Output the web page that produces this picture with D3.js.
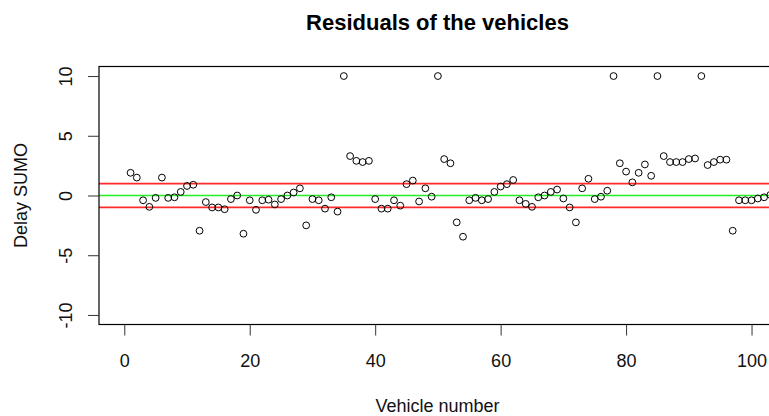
<!DOCTYPE html>
<html>
<head>
<meta charset="utf-8">
<script src="https://cdn.jsdelivr.net/npm/d3@7"></script>
<style>
  html, body { margin: 0; padding: 0; background: #fff; }
  svg { display: block; font-family: "Liberation Sans", Arial, sans-serif; }
</style>
</head>
<body>
<svg id="chart" width="769" height="416"></svg>
<script>
// Residual value for each vehicle (index = vehicle number, starting at 1)
const residuals = [
  1.9, 1.5, -0.4, -0.95, -0.2, 1.5, -0.2, -0.15, 0.3, 0.8,
  0.9, -2.95, -0.55, -1.0, -1.0, -1.15, -0.3, 0.0, -3.2, -0.4,
  -1.2, -0.4, -0.35, -0.75, -0.3, 0.0, 0.25, 0.6, -2.5, -0.3,
  -0.4, -1.1, -0.15, -1.35, 10, 3.3, 2.9, 2.8, 2.9, -0.3,
  -1.1, -1.1, -0.4, -0.85, 0.95, 1.25, -0.5, 0.6, -0.1, 10,
  3.05, 2.7, -2.25, -3.45, -0.4, -0.2, -0.4, -0.3, 0.3, 0.75,
  0.95, 1.3, -0.4, -0.7, -0.95, -0.15, 0.0, 0.3, 0.5, -0.25,
  -1.0, -2.25, 0.6, 1.4, -0.3, -0.1, 0.4, 10, 2.7, 2.0,
  1.1, 1.9, 2.6, 1.65, 10, 3.3, 2.8, 2.8, 2.8, 3.05,
  3.1, 10, 2.55, 2.8, 3.0, 3.0, -2.95, -0.4, -0.4, -0.4,
  -0.25, -0.15, 0.05
];
const vehicles = residuals.map((_, i) => i + 1);
const xTicks = [0, 20, 40, 60, 80, 100];
const yTicks = [-10, -5, 0, 5, 10];
const refLines = [
  { value: 1, color: "#ff2a2a" },
  { value: -1, color: "#ff2a2a" },
  { value: 0, color: "#22ee22" }
];
const titleText = "Residuals of the vehicles";
const xLabel = "Vehicle number";
const yLabel = "Delay SUMO";

const svg = d3.select("#chart");
const W = 769, H = 416;
svg.append("rect").attr("width", W).attr("height", H).attr("fill", "#fff");

const plot = { left: 99, right: 776, top: 66.5, bottom: 324.5 };

const x = d3.scaleLinear().domain([-4.03, 103.9]).range([plot.left, plot.right]);
const y = d3.scaleLinear().domain([-10.8, 10.8]).range([plot.bottom, plot.top]);

svg.append("clipPath").attr("id", "clip")
  .append("rect")
  .attr("x", plot.left).attr("y", plot.top)
  .attr("width", plot.right - plot.left).attr("height", plot.bottom - plot.top);

const g = svg.append("g").attr("clip-path", "url(#clip)");

// reference lines
g.selectAll("line.ref").data(refLines).enter().append("line")
  .attr("class", "ref")
  .attr("x1", plot.left).attr("x2", plot.right)
  .attr("y1", d => y(d.value)).attr("y2", d => y(d.value))
  .attr("stroke", d => d.color).attr("stroke-width", 1.7);

// points
g.selectAll("circle").data(residuals).enter().append("circle")
  .attr("cx", (d, i) => x(vehicles[i]))
  .attr("cy", d => y(d))
  .attr("r", 3.4)
  .attr("fill", "none")
  .attr("stroke", "#000")
  .attr("stroke-width", 1);

// box
svg.append("rect")
  .attr("x", plot.left).attr("y", plot.top)
  .attr("width", plot.right - plot.left).attr("height", plot.bottom - plot.top)
  .attr("fill", "none").attr("stroke", "#000").attr("stroke-width", 1.2);

// x axis
const xAxis = d3.axisBottom(x).tickValues(xTicks).tickSize(11).tickFormat(d => String(d));
const gx = svg.append("g").attr("transform", `translate(0,${plot.bottom})`).call(xAxis);
gx.select(".domain").remove();
gx.selectAll(".tick line").attr("stroke", "#333");
gx.selectAll(".tick text").attr("font-size", 18).attr("fill", "#111")
  .attr("font-family", "Liberation Sans, Arial, sans-serif")
  .attr("dy", null).attr("y", 42.5);

// y axis
const yAxis = d3.axisLeft(y).tickValues(yTicks).tickSize(11).tickFormat(d => String(d));
const gy = svg.append("g").attr("transform", `translate(${plot.left},0)`).call(yAxis);
gy.select(".domain").remove();
gy.selectAll(".tick line").attr("stroke", "#333");
gy.selectAll(".tick text")
  .attr("font-size", 18).attr("fill", "#111")
  .attr("font-family", "Liberation Sans, Arial, sans-serif")
  .attr("x", null).attr("dy", null)
  .attr("text-anchor", "middle")
  .attr("transform", "translate(-27,0) rotate(-90)");

// title
svg.append("text")
  .attr("x", (plot.left + plot.right) / 2).attr("y", 29.5)
  .attr("text-anchor", "middle")
  .attr("font-size", 22).attr("font-weight", "bold").attr("fill", "#000")
  .text(titleText);

// x label
svg.append("text")
  .attr("x", (plot.left + plot.right) / 2).attr("y", 412)
  .attr("text-anchor", "middle")
  .attr("font-size", 18).attr("fill", "#111")
  .text(xLabel);

// y label
svg.append("text")
  .attr("transform", `translate(27,${(plot.top + plot.bottom) / 2}) rotate(-90)`)
  .attr("text-anchor", "middle")
  .attr("font-size", 18).attr("fill", "#111")
  .text(yLabel);
</script>
</body>
</html>
